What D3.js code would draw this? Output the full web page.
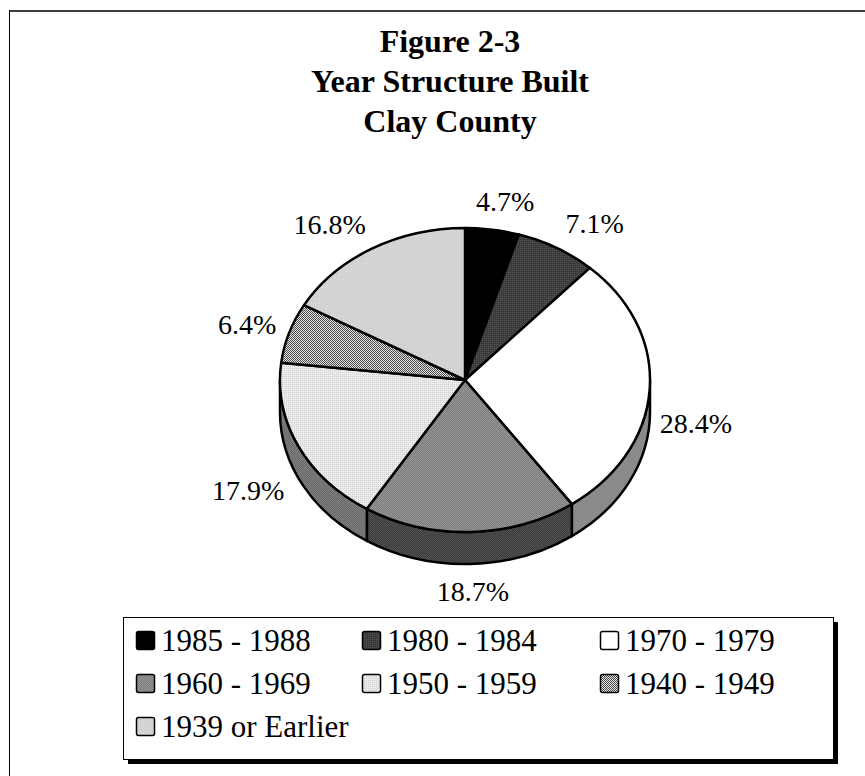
<!DOCTYPE html>
<html>
<head>
<meta charset="utf-8">
<script src="https://cdn.jsdelivr.net/npm/d3@7/dist/d3.min.js"></script>
<style>
  html, body { margin: 0; padding: 0; background: #ffffff; }
  svg { display: block; }
  text { font-family: "Liberation Serif", "Times New Roman", serif; fill: #000; }
</style>
</head>
<body>
<svg id="chart" width="865" height="776"></svg>
<script>
// ---------- data ----------
const titleLines = ["Figure 2-3", "Year Structure Built", "Clay County"];
const categories = ["1985 - 1988", "1980 - 1984", "1970 - 1979", "1960 - 1969", "1950 - 1959", "1940 - 1949", "1939 or Earlier"];
const values = [4.7, 7.1, 28.4, 18.7, 17.9, 6.4, 16.8];
const valueLabels = ["4.7%", "7.1%", "28.4%", "18.7%", "17.9%", "6.4%", "16.8%"];

// ---------- styles ----------
const topFills = ["#000000", "url(#p1980)", "#ffffff", "url(#p1960)", "url(#p1950)", "url(#p1940)", "url(#p1939)"];
const sideFills = ["#000000", "#262626", "#8a8a8a", "url(#s1960)", "url(#s1950)", "#555555", "#777777"];

const W = 865, H = 776;
const cx = 465, cy = 380, rx = 185, ry = 152, depth = 32;

const svg = d3.select("#chart");
const defs = svg.append("defs");

function pattern(id, base, dot, checker) {
  const p = defs.append("pattern").attr("id", id)
    .attr("patternUnits", "userSpaceOnUse").attr("x", 0).attr("y", 0)
    .attr("width", 2).attr("height", 2);
  p.append("rect").attr("width", 2).attr("height", 2).attr("fill", base);
  p.append("rect").attr("x", 0).attr("y", 0).attr("width", 1).attr("height", 1).attr("fill", dot);
  if (checker) p.append("rect").attr("x", 1).attr("y", 1).attr("width", 1).attr("height", 1).attr("fill", dot);
}
pattern("p1980", "#3a3a3a", "#555555", false);
pattern("p1960", "#7e7e7e", "#949494", true);
pattern("p1950", "#ececec", "#cfcfcf", false);
pattern("p1940", "#e4e4e4", "#4a4a4a", true);
pattern("p1939", "#d6d6d6", "#cacaca", false);
pattern("s1960", "#3c3c3c", "#505050", true);
pattern("s1950", "#6a6a6a", "#7e7e7e", true);

// ---------- frame ----------
svg.append("line").attr("x1", 9).attr("y1", 11).attr("x2", W).attr("y2", 11)
  .attr("stroke", "#404040").attr("stroke-width", 2);
svg.append("line").attr("x1", 9.5).attr("y1", 10).attr("x2", 9.5).attr("y2", H)
  .attr("stroke", "#000").attr("stroke-width", 1);

// ---------- title ----------
const titleCenterX = 450;
svg.append("g").selectAll("text").data(titleLines).join("text")
  .attr("x", titleCenterX)
  .attr("y", (d, i) => 52 + i * 40)
  .attr("text-anchor", "middle")
  .attr("font-size", 32)
  .attr("font-weight", "bold")
  .text(d => d);

// ---------- pie ----------
const pie = d3.pie().sort(null).value(d => d.v);
const data = categories.map((c, i) => ({ c, v: values[i], label: valueLabels[i], i }));
const arcs = pie(data);

function pt(a, dy) {
  return [cx + rx * Math.sin(a), cy - ry * Math.cos(a) + (dy || 0)];
}
function topPath(a0, a1) {
  const p0 = pt(a0), p1 = pt(a1);
  const large = (a1 - a0) > Math.PI ? 1 : 0;
  return `M${cx},${cy}L${p0[0]},${p0[1]}A${rx},${ry} 0 ${large} 1 ${p1[0]},${p1[1]}Z`;
}
function sidePath(a0, a1) {
  const b0 = Math.max(a0, Math.PI / 2), b1 = Math.min(a1, 3 * Math.PI / 2);
  if (b1 <= b0) return null;
  const p0 = pt(b0), p1 = pt(b1), q1 = pt(b1, depth), q0 = pt(b0, depth);
  return `M${p0[0]},${p0[1]}A${rx},${ry} 0 0 1 ${p1[0]},${p1[1]}L${q1[0]},${q1[1]}A${rx},${ry} 0 0 0 ${q0[0]},${q0[1]}Z`;
}

const pieG = svg.append("g");
pieG.selectAll("path.side").data(arcs.filter(a => sidePath(a.startAngle, a.endAngle)))
  .join("path").attr("class", "side")
  .attr("d", a => sidePath(a.startAngle, a.endAngle))
  .attr("fill", a => sideFills[a.data.i])
  .attr("stroke", "#000").attr("stroke-width", 2.5).attr("stroke-linejoin", "round");
pieG.selectAll("path.top").data(arcs).join("path").attr("class", "top")
  .attr("d", a => topPath(a.startAngle, a.endAngle))
  .attr("fill", a => topFills[a.data.i])
  .attr("stroke", "#000").attr("stroke-width", 2.5).attr("stroke-linejoin", "round");

// ---------- data labels ----------
const labelSize = 28;
const labels = svg.append("g").selectAll("text").data(arcs).join("text")
  .attr("font-size", labelSize)
  .attr("text-anchor", "middle")
  .text(a => a.data.label);
labels.each(function (a) {
  const w = this.getComputedTextLength();
  const h = labelSize;
  const m = (a.startAngle + a.endAngle) / 2;
  const s = Math.sin(m), c = Math.cos(m);
  const ox = 10 + 50 * c * c, oy = 14;
  const x = cx + (rx + ox + w / 2) * s;
  const y = cy - (ry + oy + h / 2) * c + (c < 0 ? depth : 0);
  d3.select(this).attr("x", x).attr("y", y + 0.34 * labelSize);
});

// ---------- legend ----------
const lg = { x: 123, y: 617, w: 710, h: 142, shadow: 5 };
const legend = svg.append("g");
legend.append("rect").attr("x", lg.x + lg.shadow).attr("y", lg.y + lg.shadow)
  .attr("width", lg.w).attr("height", lg.h).attr("fill", "#000");
legend.append("rect").attr("x", lg.x + 0.5).attr("y", lg.y + 0.5)
  .attr("width", lg.w).attr("height", lg.h).attr("fill", "#fff")
  .attr("stroke", "#000").attr("stroke-width", 1);
const colX = [136, 362, 600], rowY = [641, 684, 727];
const items = legend.selectAll("g.item").data(data).join("g").attr("class", "item")
  .attr("transform", (d, i) => `translate(${colX[i % 3]},${rowY[Math.floor(i / 3)]})`);
items.append("rect").attr("x", 0.5).attr("y", -9.5).attr("width", 18).attr("height", 18)
  .attr("rx", 2)
  .attr("fill", d => topFills[d.i]).attr("stroke", "#000").attr("stroke-width", 1.5);
items.append("text").attr("x", 25).attr("y", 10).attr("font-size", 31).text(d => d.c);
</script>
</body>
</html>
